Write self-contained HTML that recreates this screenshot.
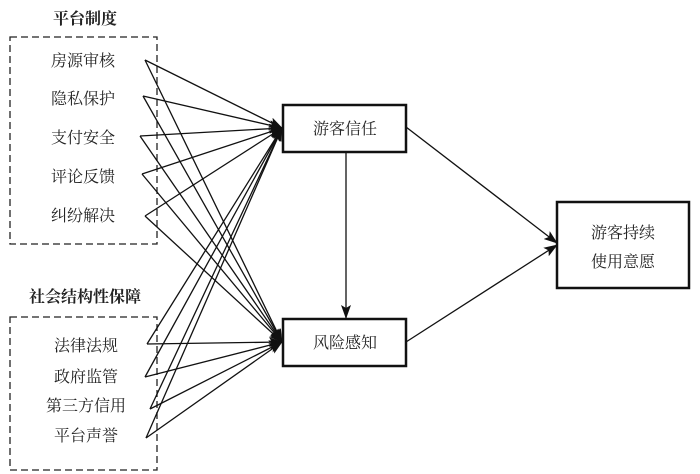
<!DOCTYPE html>
<html><head><meta charset="utf-8"><style>
body{margin:0;background:#fff;width:700px;height:474px;overflow:hidden}
svg{display:block}
text{font-family:"Liberation Serif","Noto Serif CJK SC","Noto Sans CJK SC",serif;font-size:16px;fill:#222}
</style></head><body>
<svg width="700" height="474" viewBox="0 0 700 474">
<defs><marker id="a" markerWidth="14" markerHeight="10" refX="13" refY="5" orient="auto" markerUnits="userSpaceOnUse"><path d="M0,0 L14,5 L0,10 L3,5z" fill="#111"/></marker></defs>
<text x="85" y="24" text-anchor="middle" font-weight="bold">平台制度</text>
<rect x="10" y="37" width="147" height="207" fill="none" stroke="#222" stroke-width="1.3" stroke-dasharray="7,4"/>
<text x="83" y="66" text-anchor="middle">房源审核</text>
<text x="83" y="104" text-anchor="middle">隐私保护</text>
<text x="83" y="143" text-anchor="middle">支付安全</text>
<text x="83" y="182" text-anchor="middle">评论反馈</text>
<text x="83" y="221" text-anchor="middle">纠纷解决</text>
<text x="85" y="302" text-anchor="middle" font-weight="bold">社会结构性保障</text>
<rect x="10" y="317" width="147" height="153" fill="none" stroke="#222" stroke-width="1.3" stroke-dasharray="7,4"/>
<text x="86" y="351" text-anchor="middle">法律法规</text>
<text x="86" y="382" text-anchor="middle">政府监管</text>
<text x="86" y="411" text-anchor="middle">第三方信用</text>
<text x="86" y="441" text-anchor="middle">平台声誉</text>
<g stroke="#111" stroke-width="1.3" fill="none" marker-end="url(#a)">
<line x1="145" y1="60" x2="282" y2="128"/><line x1="145" y1="60" x2="282" y2="342"/>
<line x1="143" y1="96" x2="282" y2="128"/><line x1="143" y1="96" x2="282" y2="342"/>
<line x1="140" y1="136" x2="282" y2="128"/><line x1="140" y1="136" x2="282" y2="342"/>
<line x1="142" y1="174" x2="282" y2="128"/><line x1="142" y1="174" x2="282" y2="342"/>
<line x1="145" y1="216" x2="282" y2="128"/><line x1="145" y1="216" x2="282" y2="342"/>
<line x1="147" y1="344" x2="282" y2="128"/><line x1="147" y1="344" x2="282" y2="342"/>
<line x1="145" y1="377" x2="282" y2="128"/><line x1="145" y1="377" x2="282" y2="342"/>
<line x1="150" y1="409" x2="282" y2="128"/><line x1="150" y1="409" x2="282" y2="342"/>
<line x1="146" y1="438" x2="282" y2="128"/><line x1="146" y1="438" x2="282" y2="342"/>
<line x1="346" y1="152" x2="346" y2="318"/>
<line x1="406" y1="127" x2="557" y2="243"/>
<line x1="406" y1="342" x2="557" y2="245"/>
</g>
<rect x="283" y="105" width="123" height="47" fill="#fff" stroke="#111" stroke-width="2.5"/>
<text x="345" y="134" text-anchor="middle">游客信任</text>
<rect x="283" y="319" width="123" height="47" fill="#fff" stroke="#111" stroke-width="2.5"/>
<text x="345" y="348" text-anchor="middle">风险感知</text>
<rect x="557" y="202" width="132" height="86" fill="#fff" stroke="#111" stroke-width="2.5"/>
<text x="623" y="238" text-anchor="middle">游客持续</text>
<text x="623" y="267" text-anchor="middle">使用意愿</text>
</svg>
</body></html>
